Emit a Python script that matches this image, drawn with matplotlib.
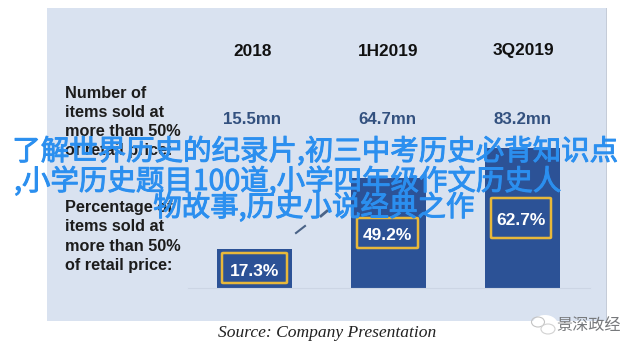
import matplotlib
matplotlib.use('Agg')
import matplotlib.pyplot as plt
import matplotlib.patheffects as pe
from matplotlib.patches import Rectangle, FancyBboxPatch, Ellipse

periods = ['2018', '1H2019', '3Q2019']
items_sold = ['15.5mn', '64.7mn', '83.2mn']
pct_values = [17.3, 49.2, 62.7]
row_label_1 = ['Number of', 'items sold at', 'more than 50%', 'of retail price:']
row_label_2 = ['Percentage of', 'items sold at', 'more than 50%', 'of retail price:']
source = 'Source: Company Presentation'
watermark = '景深政经'
overlay = ['了解世界历史的纪录片,初三中考历史必背知识点',
           ',小学历史题目100道,小学四年级作文历史人',
           '物故事,历史小说经典之作']

W, H = 640, 354
BLUE = '#2c5296'
DARK = '#33517f'
YELLOW = '#e8b83a'
fig = plt.figure(figsize=(W / 100, H / 100), dpi=100, facecolor='white')


def px(x, y):
    return x / W, 1 - y / H


def ptext(x, y, s, **kw):
    fx, fy = px(x, y)
    return fig.text(fx, fy, s, **kw)


# background panel
fig.add_artist(Rectangle(px(47, 321), 560 / W, 313 / H, transform=fig.transFigure,
                         fc='#d9e2f0', ec='none', zorder=0))
fig.add_artist(Rectangle(px(605.5, 321), 1.5 / W, 313 / H, transform=fig.transFigure,
                         fc='#c5ccd8', ec='none', zorder=0))

# bars
ax = fig.add_axes([187.5 / W, 1 - 288 / H, 402 / W, 140 / H])
ax.patch.set_alpha(0)
x = range(len(periods))
ax.bar(x, pct_values, width=0.56, color=BLUE, zorder=2)
ax.set_xlim(-0.5, 2.5)
ax.set_ylim(0, 62.7)
ax.set_xticks([])
ax.set_yticks([])
for s in ['top', 'left', 'right']:
    ax.spines[s].set_visible(False)
ax.spines['bottom'].set_color('#ccd5e4')
ax.spines['bottom'].set_linewidth(0.8)

# header and first row
centers = [253, 388, 523]
for c, p, n in zip(centers, periods, items_sold):
    ptext(c, 55.5, p, ha='center', va='baseline', fontsize=12.4, fontweight='bold',
          family='Liberation Sans', color='#111111')
    ptext(c - 1, 124, n, ha='center', va='baseline', fontsize=12.2, fontweight='bold',
          family='Liberation Sans', color=DARK)

for lab, ys in [(row_label_1, [98, 117, 136, 155]), (row_label_2, [212, 231, 251, 270])]:
    for s, y in zip(lab, ys):
        ptext(65, y, s, ha='left', va='baseline', fontsize=11.7, fontweight='bold',
              family='Liberation Sans', color='#1c1c1c')

# yellow boxes with the percentages
boxes = [(222, 253, 65, 30), (357, 218, 61, 30), (491, 198, 60, 40)]
bases = [276, 240, 225]
for (bx, by, bw, bh), v, b in zip(boxes, pct_values, bases):
    fig.add_artist(FancyBboxPatch(px(bx, by + bh), bw / W, bh / H, transform=fig.transFigure,
                                  boxstyle='round,pad=0,rounding_size=0.002',
                                  fc=BLUE, ec=YELLOW, lw=1.8, zorder=3))
    ptext(bx + bw / 2, b, f'{v}%', ha='center', va='baseline', fontsize=12.5,
          fontweight='bold', family='Liberation Sans', color='white', zorder=4)

# stray marks under the overlay
fig.add_artist(plt.Line2D([296 / W, 305 / W], [1 - 233 / H, 1 - 226 / H], color='#4a6387',
                          lw=1.5, zorder=3))
fig.add_artist(plt.Line2D([321 / W, 327 / W], [1 - 216 / H, 1 - 211 / H], color='#4a6387',
                          lw=2, zorder=3))

ptext(327, 333, source, ha='center', va='center', fontsize=12.6, style='italic',
      family='Liberation Serif', color='#222222')

# watermark, white smudge with a faint bird
fx, fy = px(545, 325)
fig.add_artist(Ellipse((fx, fy), 26 / W, 20 / H, transform=fig.transFigure, fc='white',
                       ec='none', zorder=2))
fx, fy = px(538, 322)
fig.add_artist(Ellipse((fx, fy), 13 / W, 10 / H, transform=fig.transFigure, fc='none',
                       ec='#c4c4c4', lw=0.8, zorder=2))
fx, fy = px(548, 329)
fig.add_artist(Ellipse((fx, fy), 14 / W, 10 / H, transform=fig.transFigure, fc='none',
                       ec='#d2d2d2', lw=0.8, zorder=2))
ptext(589, 325, watermark, ha='center', va='center', fontsize=11.6,
      family='Noto Sans CJK SC', color='#77797c')

# overlay title, regular weight thickened a bit
for s, (ox, oy) in zip(overlay, [(315.5, 152), (288, 182), (314, 208)]):
    ptext(ox, oy, s, ha='center', va='center', fontsize=20.5,
          family=['Noto Sans CJK SC', 'DejaVu Sans'], color='#2b8fef', zorder=10,
          path_effects=[pe.withStroke(linewidth=0.7, foreground='#2b8fef')])

fig.savefig('out.png', dpi=100)
